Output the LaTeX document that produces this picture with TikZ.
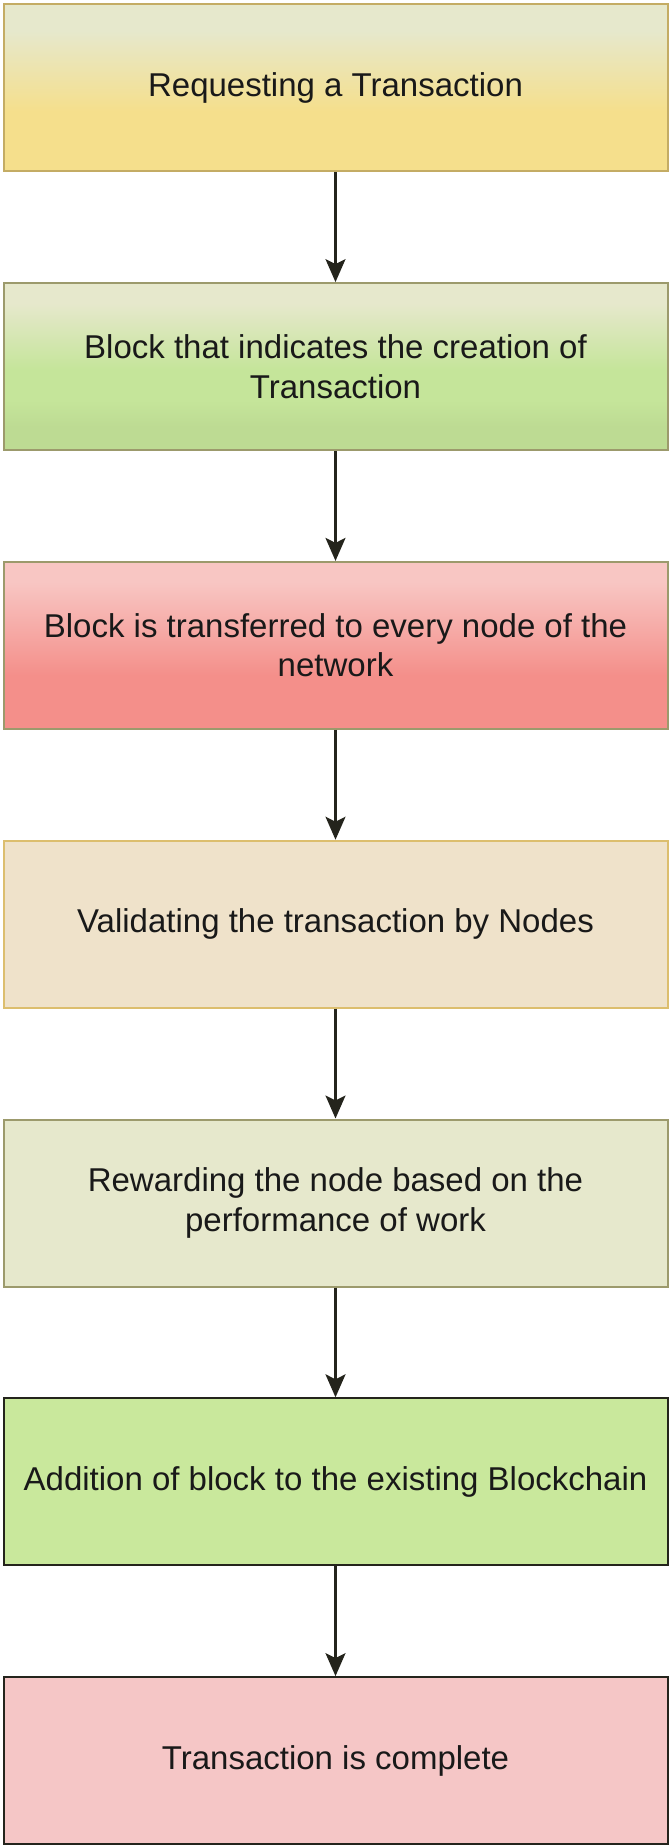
\documentclass[tikz,border=0pt]{standalone}
\usepackage{fontspec}
\setmainfont{Liberation Sans}
\usepackage{xcolor}
\usepackage{tikz}
\usetikzlibrary{calc,positioning,arrows.meta}

\definecolor{creamtop}{HTML}{E6E8CC}
\definecolor{reqyellow}{HTML}{F5DF8C}
\definecolor{reqline}{HTML}{C4AC64}
\definecolor{blkgreen}{HTML}{C5E59A}
\definecolor{blkgreendk}{HTML}{BDDB93}
\definecolor{oliveline}{HTML}{9C9A6C}
\definecolor{pinktop}{HTML}{F8C6C3}
\definecolor{salmon}{HTML}{F48F8A}
\definecolor{valbeige}{HTML}{EFE2CA}
\definecolor{valline}{HTML}{DCBE6E}
\definecolor{rewcream}{HTML}{E6E8CC}
\definecolor{addgreen}{HTML}{C9E89C}
\definecolor{donepink}{HTML}{F5C6C6}
\definecolor{darkline}{HTML}{24241C}

\pgfdeclareverticalshading{reqshade}{100bp}{color(0bp)=(reqyellow); color(43bp)=(reqyellow); color(67bp)=(creamtop); color(100bp)=(creamtop)}
\pgfdeclareverticalshading{creatshade}{100bp}{color(0bp)=(blkgreendk); color(32bp)=(blkgreendk); color(40bp)=(blkgreen); color(49bp)=(blkgreen); color(69bp)=(creamtop); color(100bp)=(creamtop)}
\pgfdeclareverticalshading{sendshade}{100bp}{color(0bp)=(salmon); color(41bp)=(salmon); color(69bp)=(pinktop); color(100bp)=(pinktop)}

\tikzset{
    stepbox/.style={draw, line width=2pt, minimum width=664pt, minimum height=167pt,
        font=\fontsize{33}{39.5}\selectfont, text=black!90, inner sep=0pt},
    flow/.style={-{Stealth[length=23pt, width=20pt, inset=5pt]}, line width=2.2pt, draw=darkline},
}

\begin{document}
\begin{tikzpicture}[align=center, node distance=109.8pt]
        \useasboundingbox (0,0) rectangle (671pt,-1846pt);

        \node [stepbox, draw=reqline, shading=reqshade] (request) at (335.5pt,-87.8pt) {Requesting a Transaction};
        \node [stepbox, draw=oliveline, shading=creatshade, below=of request] (create) {Block that indicates the creation of\\Transaction};
        \node [stepbox, draw=oliveline, shading=sendshade, below=of create] (broadcast) {Block is transferred to every node of the\\network};
        \node [stepbox, draw=valline, fill=valbeige, below=of broadcast] (validate) {Validating the transaction by Nodes};
        \node [stepbox, draw=oliveline, fill=rewcream, below=of validate] (reward) {Rewarding the node based on the\\performance of work};
        \node [stepbox, draw=darkline, fill=addgreen, below=of reward] (append) {Addition of block to the existing Blockchain};
        \node [stepbox, draw=darkline, fill=donepink, below=of append] (complete) {Transaction is complete};

        \draw[flow] (request) -- (create);
        \draw[flow] (create) -- (broadcast);
        \draw[flow] (broadcast) -- (validate);
        \draw[flow] (validate) -- (reward);
        \draw[flow] (reward) -- (append);
        \draw[flow] (append) -- (complete);
    \end{tikzpicture}
\end{document}
